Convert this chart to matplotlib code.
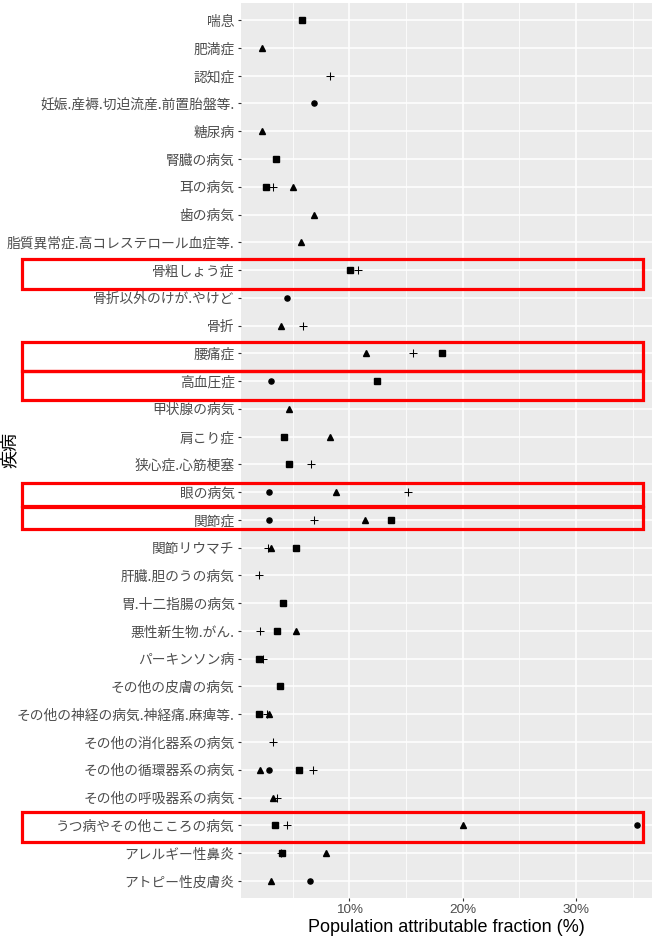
import numpy as np
import matplotlib
matplotlib.use("Agg")
import matplotlib.pyplot as plt
from matplotlib.patches import Rectangle
from matplotlib.ticker import FuncFormatter, MultipleLocator
import matplotlib.transforms as mtransforms

# diseases, listed top to bottom
diseases = [
    "喘息", "肥満症", "認知症", "妊娠.産褥.切迫流産.前置胎盤等.", "糖尿病",
    "腎臓の病気", "耳の病気", "歯の病気", "脂質異常症.高コレステロール血症等.",
    "骨粗しょう症", "骨折以外のけが.やけど", "骨折", "腰痛症", "高血圧症",
    "甲状腺の病気", "肩こり症", "狭心症.心筋梗塞", "眼の病気", "関節症",
    "関節リウマチ", "肝臓.胆のうの病気", "胃.十二指腸の病気", "悪性新生物.がん.",
    "パーキンソン病", "その他の皮膚の病気", "その他の神経の病気.神経痛.麻痺等.",
    "その他の消化器系の病気", "その他の循環器系の病気", "その他の呼吸器系の病気",
    "うつ病やその他こころの病気", "アレルギー性鼻炎", "アトピー性皮膚炎",
]

nan = np.nan
# population attributable fraction (%) for the four groups (one marker shape each)
paf_circle = [nan, nan, nan, 6.9, nan, nan, nan, nan, nan, nan, 4.5, nan, nan, 3.05,
              nan, nan, nan, 2.9, 2.9, nan, nan, nan, nan, nan, nan, nan,
              nan, 2.9, nan, 35.4, nan, 6.5]
paf_triangle = [nan, 2.3, nan, nan, 2.3, nan, 5.0, 6.9, 5.7, nan, nan, 4.0, 11.5, nan,
                4.7, 8.3, nan, 8.8, 11.4, 3.05, nan, nan, 5.3, nan, nan, 2.95,
                nan, 2.1, 3.25, 20.0, 7.95, 3.1]
paf_square = [5.8, nan, nan, nan, nan, 3.55, 2.65, nan, nan, 10.1, nan, nan, 18.2, 12.4,
              nan, 4.2, 4.7, nan, 13.7, 5.3, nan, 4.15, 3.6, 2.05, 3.9, 2.05,
              nan, 5.55, nan, 3.4, 4.05, nan]
paf_plus = [nan, nan, 8.3, nan, nan, nan, 3.3, nan, nan, 10.8, nan, 5.9, 15.6, nan,
            nan, nan, 6.6, 15.2, 6.9, 2.85, 2.05, nan, 2.1, 2.4, nan, 2.75,
            3.3, 6.8, 3.6, 4.5, 3.95, nan]

# rows picked out with red boxes: (disease, half height in rows, vertical shift in rows)
highlights = [
    ("骨粗しょう症", 0.54, 0.15),
    ("腰痛症", 0.53, 0.12),
    ("高血圧症", 0.53, 0.15),
    ("眼の病気", 0.41, 0.09),
    ("関節症", 0.39, -0.07),
    ("うつ病やその他こころの病気", 0.54, 0.07),
]

latin = ["Liberation Sans", "DejaVu Sans"]
cjk = ["Noto Sans CJK JP", "DejaVu Sans"]
plt.rcParams["font.family"] = latin

W, H = 652, 938
fig = plt.figure(figsize=(W / 100, H / 100), dpi=100)
ax = fig.add_axes([241 / W, 1 - 897.5 / H, 411 / W, 894 / H])
ax.set_facecolor("#EBEBEB")
for s in ax.spines.values():
    s.set_visible(False)

y = np.arange(len(diseases))
ax.plot(paf_circle, y, "o", color="black", ms=3.7, ls="none", zorder=3)
ax.plot(paf_triangle, y, "^", color="black", ms=4.6, ls="none", zorder=3)
ax.plot(paf_square, y, "s", color="black", ms=3.7, ls="none", zorder=3)
ax.plot(paf_plus, y, "+", color="black", ms=6.0, mew=0.75, ls="none", zorder=3)

ax.set_xlim(0.44, 36.7)
ax.set_ylim(len(diseases) - 0.4, -0.6)
ax.xaxis.set_major_locator(MultipleLocator(10))
ax.xaxis.set_minor_locator(MultipleLocator(5))
ax.xaxis.set_major_formatter(FuncFormatter(lambda v, p: f"{v:.0f}%"))
ax.set_yticks(y)
ax.set_yticklabels(diseases, family=cjk, fontsize=9.9, color="#4D4D4D")
ax.tick_params(axis="x", which="major", labelsize=9.7, labelcolor="#4D4D4D",
               color="#333333", length=2.5, width=0.8, pad=2.5)
ax.tick_params(axis="x", which="minor", length=0)
ax.tick_params(axis="y", color="#333333", length=2.5, width=0.8, pad=2)

ax.grid(which="major", color="white", lw=1.1)
ax.grid(which="minor", axis="x", color="white", lw=0.55)
ax.set_axisbelow(True)

ax.set_xlabel("Population attributable fraction (%)", fontsize=13, labelpad=2)
fig.text(10 / W, 0.52, "疾病", family=cjk, fontsize=13, rotation=90,
         ha="center", va="center")

# red boxes spanning the whole width of the figure
trans = mtransforms.blended_transform_factory(fig.transFigure, ax.transData)
for name, half, shift in highlights:
    i = diseases.index(name)
    fig.add_artist(Rectangle((22 / W, i + shift + half), 621 / W, -2 * half,
                             transform=trans, fill=False, ec="#FF0000", lw=2.3,
                             zorder=10))

fig.savefig("out.png", dpi=100)
